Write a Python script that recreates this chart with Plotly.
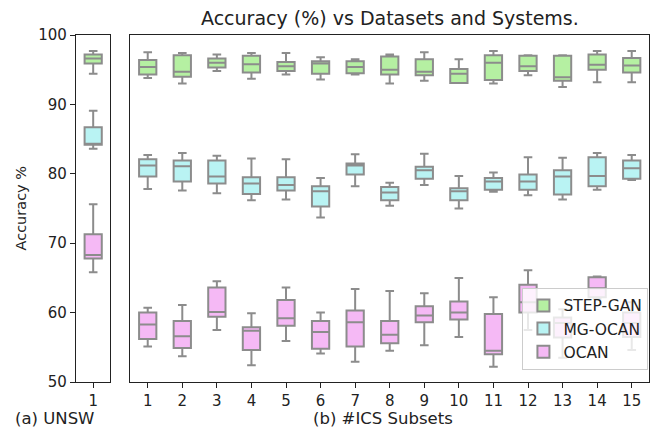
import plotly.graph_objects as go

subsets = list(range(1, 15 + 1))
unsw_pos = [1]
systems = ["STEP-GAN", "MG-OCAN", "OCAN"]

# ICS subsets: lower whisker, Q1, median, Q3, upper whisker
step_low = [93.8, 93.0, 94.8, 93.7, 94.3, 93.6, 94.3, 93.0, 93.4, 93.1, 93.0, 94.2, 92.5, 93.2, 93.2]
step_q1 = [94.3, 94.0, 95.3, 94.6, 94.8, 94.4, 94.5, 94.3, 94.2, 93.1, 93.5, 94.8, 93.4, 95.0, 94.6]
step_med = [95.4, 94.7, 96.0, 95.8, 95.5, 95.9, 95.4, 95.0, 94.7, 94.4, 96.0, 95.5, 93.9, 95.7, 95.6]
step_q3 = [96.4, 97.1, 96.6, 97.0, 96.1, 96.2, 96.2, 96.9, 96.5, 95.1, 97.1, 97.0, 97.0, 97.2, 96.7]
step_high = [97.5, 97.4, 97.2, 97.4, 97.4, 96.8, 96.5, 97.2, 97.5, 96.5, 97.7, 97.1, 97.1, 97.7, 97.7]

mg_low = [77.8, 77.6, 77.2, 76.2, 76.3, 73.7, 78.2, 75.4, 78.4, 75.0, 77.4, 76.9, 76.3, 77.7, 79.1]
mg_q1 = [79.6, 78.9, 78.6, 77.1, 77.6, 75.3, 79.9, 76.2, 79.3, 76.2, 77.7, 77.7, 77.0, 78.2, 79.3]
mg_med = [81.2, 81.1, 79.6, 78.6, 78.4, 77.5, 81.2, 77.3, 80.5, 77.5, 78.9, 78.9, 79.6, 79.7, 80.8]
mg_q3 = [82.1, 81.9, 81.9, 79.5, 79.5, 78.2, 81.5, 78.1, 81.0, 77.9, 79.4, 79.9, 80.5, 82.4, 81.9]
mg_high = [82.7, 83.0, 82.6, 82.2, 82.1, 79.4, 82.8, 78.7, 82.9, 79.7, 80.2, 82.4, 82.3, 83.0, 82.7]

ocan_low = [55.1, 53.7, 57.5, 52.4, 55.9, 54.1, 52.9, 54.5, 55.3, 56.5, 52.2, 57.5, 53.5, 62.0, 54.6]
ocan_q1 = [56.2, 54.9, 59.4, 54.6, 58.1, 54.8, 55.1, 55.6, 58.6, 59.0, 54.0, 60.0, 56.4, 62.2, 56.5]
ocan_med = [58.3, 56.6, 60.1, 57.4, 59.2, 57.2, 58.6, 56.8, 59.6, 60.0, 54.5, 61.5, 58.5, 63.5, 58.5]
ocan_q3 = [60.0, 58.8, 63.6, 57.9, 61.8, 58.8, 60.3, 58.8, 60.9, 61.6, 59.8, 64.0, 59.3, 65.1, 60.0]
ocan_high = [60.7, 61.1, 64.5, 59.9, 63.6, 60.0, 63.4, 63.1, 62.8, 65.0, 62.2, 66.1, 60.5, 65.2, 61.5]

# UNSW: [low, q1, median, q3, high]
unsw_step = [94.4, 95.9, 96.6, 97.2, 97.7]
unsw_mg = [83.6, 84.2, 84.3, 86.7, 89.1]
unsw_ocan = [65.8, 67.8, 68.3, 71.3, 75.6]

fills = ["#b5f0a2", "#b9f3f3", "#f5b9f5"]
edge = "#8c8c8c"
FONT = "DejaVu Sans"

fig = go.Figure()

ics = [
    (step_low, step_q1, step_med, step_q3, step_high),
    (mg_low, mg_q1, mg_med, mg_q3, mg_high),
    (ocan_low, ocan_q1, ocan_med, ocan_q3, ocan_high),
]
unsw = [unsw_step, unsw_mg, unsw_ocan]

for name, fc, u in zip(systems, fills, unsw):
    fig.add_trace(go.Box(
        x=unsw_pos, lowerfence=[u[0]], q1=[u[1]], median=[u[2]], q3=[u[3]], upperfence=[u[4]],
        name=name, legendgroup=name, showlegend=False,
        fillcolor=fc, line=dict(color=edge, width=2), width=0.5, whiskerwidth=0.5,
        boxpoints=False, xaxis="x", yaxis="y", hoverinfo="skip",
    ))

for name, fc, (lo, a, m, b, hi) in zip(systems, fills, ics):
    fig.add_trace(go.Box(
        x=subsets, lowerfence=lo, q1=a, median=m, q3=b, upperfence=hi,
        name=name, legendgroup=name, showlegend=True,
        fillcolor=fc, line=dict(color=edge, width=2), width=0.5, whiskerwidth=0.5,
        boxpoints=False, xaxis="x2", yaxis="y2",
    ))

axis_common = dict(showline=True, linecolor="#222", linewidth=1.2, mirror=True,
                   showgrid=False, zeroline=False, ticks="outside", ticklen=5,
                   tickcolor="#222", tickfont=dict(family=FONT, size=15, color="#222"))

fig.update_layout(
    width=657, height=429,
    margin=dict(l=76, r=8, t=35, b=47),
    paper_bgcolor="white", plot_bgcolor="white",
    boxmode="overlay",
    font=dict(family=FONT, color="#222"),
    xaxis=dict(domain=[0, 0.06], range=[0.5, 1.5], tickvals=unsw_pos, ticktext=["1"], **axis_common),
    xaxis2=dict(domain=[0.095, 1], range=[0.5, 15.5], tickvals=subsets,
                ticktext=[str(s) for s in subsets], anchor="y2", **axis_common),
    yaxis=dict(range=[50, 100], tickvals=[50, 60, 70, 80, 90, 100], anchor="x", **axis_common),
    yaxis2=dict(range=[50, 100], tickvals=[], anchor="x2", matches="y",
                **{k: v for k, v in axis_common.items() if k not in ("ticks",)}),
    legend=dict(x=0.999, y=0.035, xanchor="right", yanchor="bottom",
                bgcolor="rgba(255,255,255,0.8)", bordercolor="#cccccc", borderwidth=1,
                font=dict(family=FONT, size=15.5, color="#222"), traceorder="normal",
                tracegroupgap=0),
    annotations=[
        dict(text="Accuracy (%) vs Datasets and Systems.", xref="paper", yref="paper",
             x=0.548, y=1, yshift=17, xanchor="center", yanchor="middle", showarrow=False,
             font=dict(family=FONT, size=19, color="#222")),
        dict(text="Accuracy %", xref="paper", yref="paper", x=0, xshift=-56, y=0.5,
             textangle=-90, xanchor="center", yanchor="middle", showarrow=False,
             font=dict(family=FONT, size=14.5, color="#222")),
        dict(text="(a) UNSW", xref="paper", yref="paper", x=0, xshift=-22, y=0, yshift=-36,
             xanchor="center", yanchor="middle", showarrow=False,
             font=dict(family=FONT, size=16.5, color="#222")),
        dict(text="(b) #ICS Subsets", xref="paper", yref="paper", x=0.535, y=0, yshift=-36,
             xanchor="center", yanchor="middle", showarrow=False,
             font=dict(family=FONT, size=16.5, color="#222")),
    ],
)

fig.write_html("out.html")
